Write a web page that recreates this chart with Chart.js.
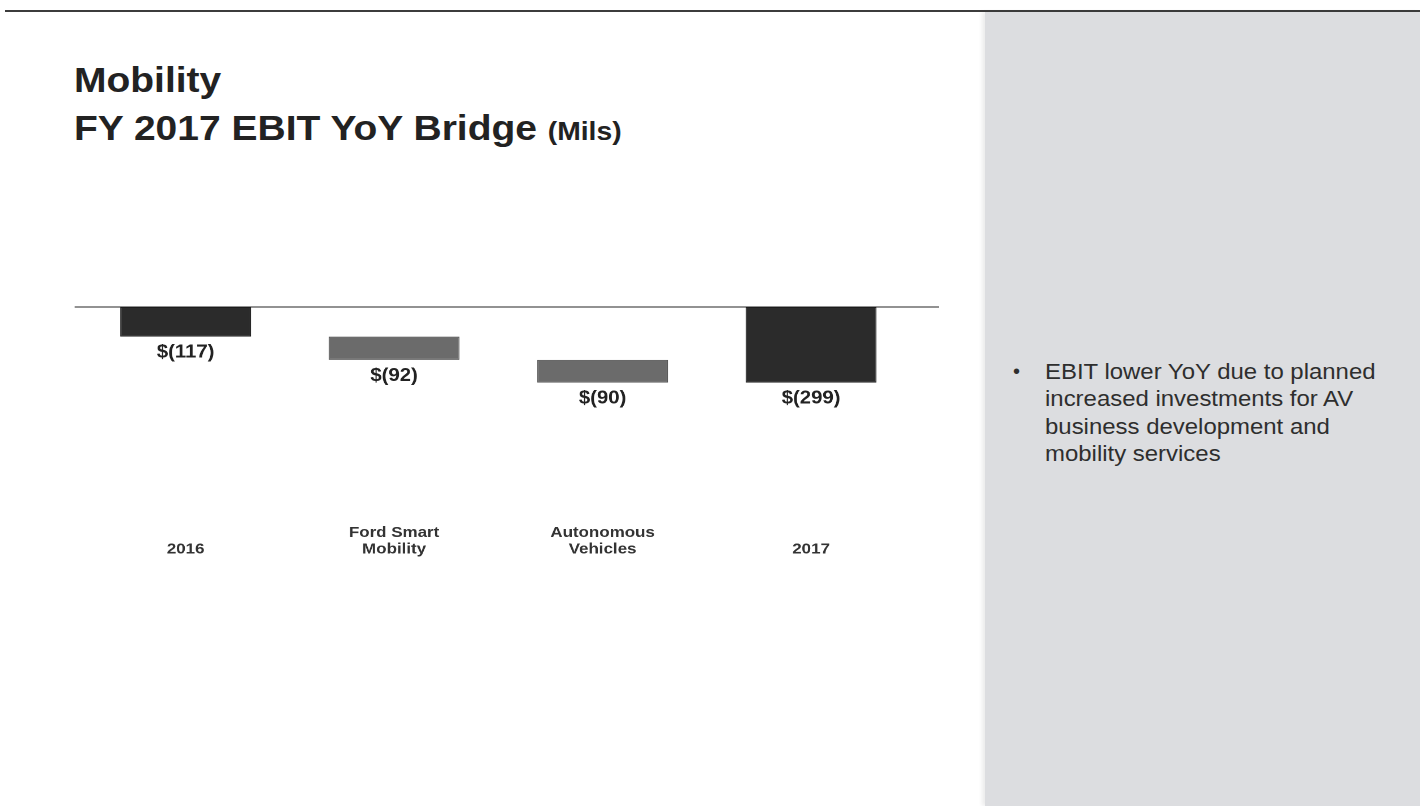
<!DOCTYPE html>
<html lang="en">
<head>
    <meta charset="UTF-8">
    <title>Mobility FY 2017 EBIT YoY Bridge</title>
    <script src="https://cdn.jsdelivr.net/npm/chart.js"></script>
    <style>
        html, body {
            margin: 0;
            padding: 0;
        }
        body {
            width: 1420px;
            height: 806px;
            position: relative;
            overflow: hidden;
            background: #fff;
            font-family: "Liberation Sans", Arial, sans-serif;
        }
        .topline {
            position: absolute;
            left: 5px;
            right: 0;
            top: 10px;
            height: 2px;
            background: #3c3c3c;
        }
        .panel {
            position: absolute;
            left: 985px;
            top: 12px;
            right: 0;
            bottom: 0;
            background: #dcdde0;
            box-shadow: -3px 0 4px rgba(0, 0, 0, 0.08);
        }
        /* the slide is a little wider than it is tall, so text is stretched */
        .stretch {
            transform: scaleX(1.13);
            transform-origin: 0 0;
            white-space: nowrap;
        }
        .title {
            position: absolute;
            left: 74px;
            font-size: 34.5px;
            line-height: 34px;
            font-weight: bold;
            color: #222;
        }
        .title small {
            font-size: 25px;
        }
        .dot {
            position: absolute;
            left: 1013px;
            top: 358px;
            font-size: 20px;
            line-height: 27.3px;
            color: #2e2e2e;
        }
        .bullet {
            position: absolute;
            left: 1045px;
            top: 358px;
            font-size: 21.2px;
            line-height: 27.3px;
            color: #2e2e2e;
        }
        #chartBox {
            position: absolute;
            left: 0;
            top: 280px;
            width: 850px;
            height: 320px;
        }
    </style>
</head>
<body>
    <div class="topline"></div>
    <div class="panel"></div>
    <div class="title stretch" style="top: 63px;">Mobility</div>
    <div class="title stretch" style="top: 111px;">FY 2017 EBIT YoY Bridge <small>(Mils)</small></div>
    <div class="dot">&bull;</div>
    <div class="bullet stretch">EBIT lower YoY due to planned<br>increased investments for AV<br>business development and<br>mobility services</div>
    <div id="chartBox" class="stretch"><canvas id="bridgeChart"></canvas></div>
    <script>
        const categories = [['2016'], ['Ford Smart', 'Mobility'], ['Autonomous', 'Vehicles'], ['2017']];
        const changes = [-117, -92, -90, -299];
        const barKinds = ['total', 'step', 'step', 'total'];

        const fills = { total: '#2b2b2b', step: '#6b6b6b' };
        const borders = { total: '#1c1c1c', step: '#555555' };

        // floating bars: totals start at zero, steps start where the last bar ended
        let running = 0;
        const ranges = changes.map((v, i) => {
            if (barKinds[i] === 'total') {
                running = v;
                return [0, v];
            }
            const start = running;
            running += v;
            return [start, running];
        });

        const zeroLine = {
            id: 'zeroLine',
            beforeDatasetsDraw(chart) {
                const ctx = chart.ctx;
                const y = chart.scales.y.getPixelForValue(0);
                ctx.save();
                ctx.strokeStyle = '#6e6e6e';
                ctx.lineWidth = 1.5;
                ctx.beginPath();
                ctx.moveTo(chart.chartArea.left - 6, y);
                ctx.lineTo(chart.chartArea.right + 21, y);
                ctx.stroke();
                ctx.restore();
            }
        };

        const valueLabels = {
            id: 'valueLabels',
            afterDatasetsDraw(chart) {
                const ctx = chart.ctx;
                const meta = chart.getDatasetMeta(0);
                ctx.save();
                ctx.font = 'bold 18px "Liberation Sans", Arial, sans-serif';
                ctx.fillStyle = '#222';
                ctx.textAlign = 'center';
                ctx.textBaseline = 'middle';
                meta.data.forEach((bar, i) => {
                    const bottom = Math.max(bar.y, bar.base);
                    ctx.fillText('$(' + Math.abs(changes[i]) + ')', bar.x, bottom + 16);
                });
                ctx.restore();
            }
        };

        new Chart(document.getElementById('bridgeChart'), {
            type: 'bar',
            data: {
                labels: categories,
                datasets: [{
                    data: ranges,
                    backgroundColor: barKinds.map(k => fills[k]),
                    borderColor: barKinds.map(k => borders[k]),
                    borderWidth: 1,
                    borderSkipped: false,
                    categoryPercentage: 1,
                    barPercentage: 0.628
                }]
            },
            options: {
                responsive: true,
                maintainAspectRatio: false,
                devicePixelRatio: 2,
                animation: false,
                layout: { padding: { left: 72, right: 40, top: 27, bottom: 18 } },
                plugins: {
                    legend: { display: false },
                    tooltip: { enabled: false }
                },
                scales: {
                    x: {
                        grid: { display: false, drawTicks: false },
                        border: { display: false },
                        ticks: {
                            color: '#333',
                            crossAlign: 'far',
                            padding: 16,
                            font: { family: '"Liberation Sans", Arial, sans-serif', size: 15, weight: 'bold', lineHeight: 1.1 }
                        }
                    },
                    y: {
                        display: false,
                        min: -830,
                        max: 0
                    }
                }
            },
            plugins: [zeroLine, valueLabels]
        });
    </script>
</body>
</html>
